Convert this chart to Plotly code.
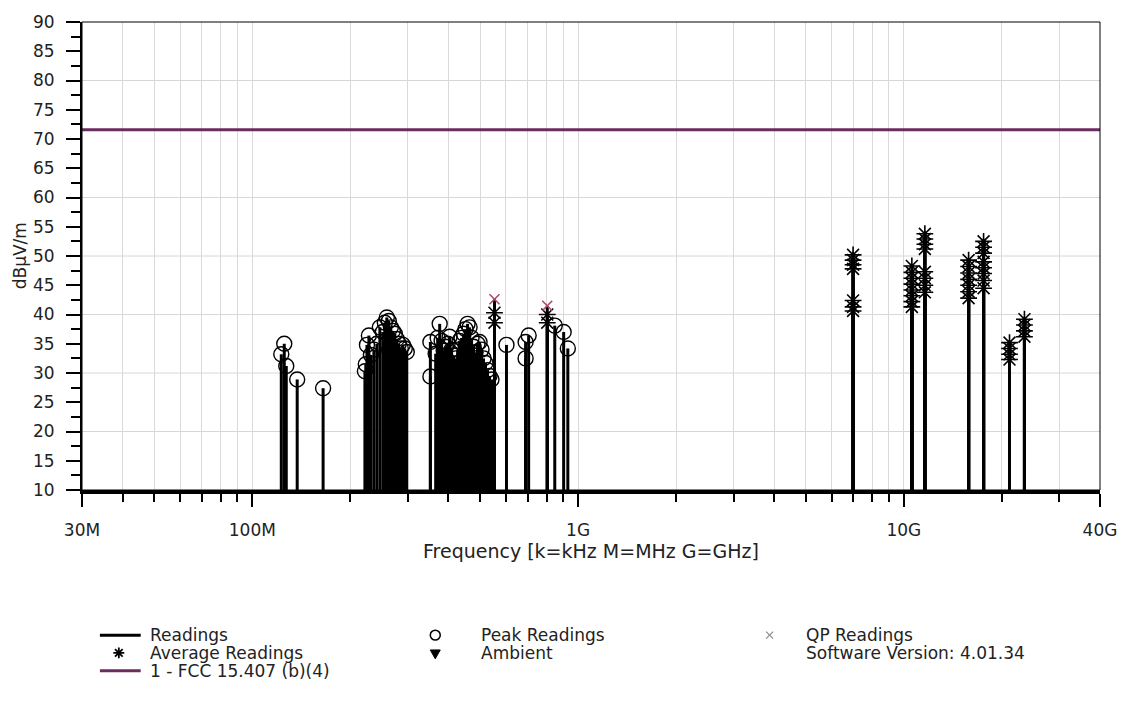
import plotly.graph_objects as go

# ---------------------------------------------------------------------------
# Data (frequencies in MHz, levels in dBµV/m)
# ---------------------------------------------------------------------------
limit_freq_mhz = [30, 40000]
limit_dbuv = [71.6, 71.6]

peak_freq_mhz = [
    122.7, 125.3, 127.1, 137.3, 164.9,
    221.6, 223.0, 224.8, 227.9, 231.2, 236.1, 241.1, 246.3, 251.5, 255.1,
    258.7, 262.4, 266.2, 269.9, 273.8, 277.7, 281.6, 285.6, 289.6, 293.7, 297.9,
    352.0, 352.0,
    365.4, 370.6, 375.9, 381.2, 386.6, 392.1, 397.7, 403.3, 409.1, 414.9,
    420.7, 426.7, 432.7, 438.9, 445.2, 451.4, 457.8, 464.3, 470.9, 477.6,
    484.5, 491.3, 498.3, 505.3, 512.5, 519.7, 527.0, 534.6, 542.2,
    602.7, 690.0, 690.0, 705.0, 848.0, 903.0, 930.0,
]
peak_dbuv = [
    33.2, 35.0, 31.2, 28.9, 27.4,
    30.3, 31.5, 34.8, 36.4, 33.1, 34.0, 35.0, 37.8, 37.0, 38.6,
    39.5, 38.9, 37.8, 37.2, 36.7, 35.8, 35.0, 34.2, 34.8, 34.2, 33.6,
    35.3, 29.4,
    33.3, 36.0, 38.4, 35.5, 33.8, 34.5, 35.0, 36.2, 34.0, 33.0,
    32.5, 34.0, 35.5, 36.0, 36.7, 37.5, 38.4, 37.8, 36.0, 34.5,
    33.5, 35.0, 35.3, 34.0, 32.5, 31.7, 30.5, 29.5, 28.9,
    34.8, 35.3, 32.5, 36.4, 38.1, 37.0, 34.2,
]

avg_freq_mhz = [
    553.8, 553.8, 804.1, 804.1,
    6984, 6984, 6984, 6984, 6984, 6984, 6984,
    10581, 10581, 10581, 10581, 10581, 10581, 10581, 10581,
    11599, 11599, 11599, 11599, 11599, 11599, 11599, 11599,
    15804, 15804, 15804, 15804, 15804, 15804, 15804,
    17568, 17568, 17568, 17568, 17568, 17568, 17568, 17568,
    21102, 21102, 21102, 21102,
    23448, 23448, 23448, 23448,
]
avg_dbuv = [
    40.3, 38.6, 40.0, 38.6,
    50.2, 49.3, 48.5, 47.8, 42.4, 41.3, 40.6,
    48.3, 47.2, 46.2, 45.2, 44.2, 43.2, 42.2, 41.3,
    53.8, 52.9, 52.0, 51.2, 47.3, 46.2, 45.0, 43.8,
    49.3, 48.2, 47.1, 46.0, 45.0, 43.9, 42.8,
    52.5, 51.5, 50.5, 49.0, 48.0, 47.0, 45.8, 44.5,
    35.2, 34.2, 33.2, 32.3,
    39.2, 38.2, 37.2, 36.2,
]

qp_freq_mhz = [553.8, 804.1]
qp_dbuv = [42.6, 41.5]

x_tick_vals = [30, 100, 1000, 10000, 40000]
x_tick_text = ["30M", "100M", "1G", "10G", "40G"]
x_minor_vals = [40, 50, 60, 70, 80, 90,
                200, 300, 400, 500, 600, 700, 800, 900,
                2000, 3000, 4000, 5000, 6000, 7000, 8000, 9000,
                20000, 30000]
y_grid_vals = [20, 30, 40, 50, 60, 80]

FONT = "DejaVu Sans"
INK = "#222"
LIMIT_COLOR = "#6b2d5e"
QP_COLOR = "#b04a66"
W, H = 1129, 708
L, R, T, B = 82, 24, 16, 218
PW, PH = W - L - R, H - T - B


def px_x(px):
    return (px - L) / PW


def px_y(py):
    return (H - B - py) / PH


def seg(x0, y0, x1, y1):
    return f"M{px_x(x0)},{px_y(y0)} L{px_x(x1)},{px_y(y1)} "


fig = go.Figure()

# Vertical stems from the floor of the chart up to each reading
stem_x, stem_y = [], []
for f, v in zip(peak_freq_mhz + avg_freq_mhz + qp_freq_mhz,
                peak_dbuv + avg_dbuv + qp_dbuv):
    stem_x += [f, f, None]
    stem_y += [10, v, None]

fig.add_trace(go.Scatter(x=stem_x, y=stem_y, mode="lines",
                         line=dict(color="black", width=3),
                         name="Readings", hoverinfo="skip"))

fig.add_trace(go.Scatter(x=limit_freq_mhz, y=limit_dbuv, mode="lines",
                         line=dict(color=LIMIT_COLOR, width=3),
                         name="1 - FCC 15.407 (b)(4)"))

fig.add_trace(go.Scatter(x=peak_freq_mhz, y=peak_dbuv, mode="markers",
                         marker=dict(symbol="circle-open", size=15,
                                     color="black", line=dict(width=1.4)),
                         name="Peak Readings"))

fig.add_trace(go.Scatter(x=avg_freq_mhz, y=avg_dbuv, mode="markers",
                         marker=dict(symbol="asterisk-open", size=14,
                                     color="black", line=dict(width=1.6)),
                         name="Average Readings"))

fig.add_trace(go.Scatter(x=qp_freq_mhz, y=qp_dbuv, mode="markers",
                         marker=dict(symbol="x-thin-open", size=10,
                                     color=QP_COLOR, line=dict(width=1.6)),
                         name="QP Readings"))

shapes = []
for gv in y_grid_vals:
    shapes.append(dict(type="line", xref="paper", x0=0, x1=1, yref="y",
                       y0=gv, y1=gv, layer="below",
                       line=dict(color="#d6d6d6", width=1)))
# frame
shapes.append(dict(type="rect", xref="paper", yref="paper", x0=0, x1=1,
                   y0=0, y1=1, line=dict(color="black", width=1)))

# ---- legend keys (drawn below the chart) ----
shapes.append(dict(type="line", xref="paper", yref="paper",
                   x0=px_x(100), x1=px_x(141), y0=px_y(637), y1=px_y(637),
                   line=dict(color="black", width=3)))
shapes.append(dict(type="line", xref="paper", yref="paper",
                   x0=px_x(100), x1=px_x(141), y0=px_y(673), y1=px_y(673),
                   line=dict(color=LIMIT_COLOR, width=3)))
# asterisk key
cx, cy, r = 119, 655, 5.5
ast = (seg(cx - r, cy, cx + r, cy) + seg(cx, cy - r, cx, cy + r)
       + seg(cx - r * 0.7, cy - r * 0.7, cx + r * 0.7, cy + r * 0.7)
       + seg(cx - r * 0.7, cy + r * 0.7, cx + r * 0.7, cy - r * 0.7))
shapes.append(dict(type="path", xref="paper", yref="paper", path=ast,
                   line=dict(color="black", width=1.8)))
# open circle key
cx, cy, r = 437, 637, 5
shapes.append(dict(type="circle", xref="paper", yref="paper",
                   x0=px_x(cx - r), x1=px_x(cx + r),
                   y0=px_y(cy + r), y1=px_y(cy - r),
                   line=dict(color="black", width=1.5)))
# down triangle key
cx, cy = 437, 656
tri = (f"M{px_x(cx - 5)},{px_y(cy - 4)} L{px_x(cx + 5)},{px_y(cy - 4)} "
       f"L{px_x(cx)},{px_y(cy + 5)} Z")
shapes.append(dict(type="path", xref="paper", yref="paper", path=tri,
                   fillcolor="black", line=dict(color="black", width=1)))
# x key
cx, cy, r = 773, 637, 3.5
xk = seg(cx - r, cy - r, cx + r, cy + r) + seg(cx - r, cy + r, cx + r, cy - r)
shapes.append(dict(type="path", xref="paper", yref="paper", path=xk,
                   line=dict(color="#8a8a8a", width=1.2)))

legend_text = [
    (148, 637, "Readings"),
    (148, 655, "Average Readings"),
    (148, 673, "1 - FCC 15.407 (b)(4)"),
    (481, 637, "Peak Readings"),
    (481, 655, "Ambient"),
    (808, 637, "QP Readings"),
    (808, 655, "Software Version: 4.01.34"),
]
annotations = [dict(x=px_x(x), y=px_y(y), xref="paper", yref="paper",
                    text=t, showarrow=False, xanchor="left", yanchor="middle",
                    font=dict(family=FONT, size=17, color=INK))
               for x, y, t in legend_text]
annotations.append(dict(x=0.5, y=px_y(552), xref="paper", yref="paper",
                        text="Frequency [k=kHz M=MHz G=GHz]", showarrow=False,
                        xanchor="center", yanchor="middle",
                        font=dict(family=FONT, size=19, color=INK)))
annotations.append(dict(x=px_x(20), y=0.5, xref="paper", yref="paper",
                        text="dBµV/m", showarrow=False, textangle=-90,
                        xanchor="center", yanchor="middle",
                        font=dict(family=FONT, size=17, color=INK)))

fig.update_layout(
    width=W, height=H,
    margin=dict(l=L, r=R, t=T, b=B),
    paper_bgcolor="white", plot_bgcolor="white",
    showlegend=False,
    font=dict(family=FONT, size=17, color=INK),
    shapes=shapes, annotations=annotations,
    xaxis=dict(
        type="log", range=[1.4771, 4.6021],
        tickvals=x_tick_vals, ticktext=x_tick_text,
        ticks="outside", ticklen=13, tickwidth=2, tickcolor="black",
        ticklabelstandoff=9,
        showline=True, linewidth=4, linecolor="black",
        showgrid=True, gridcolor="#d9d9d9", gridwidth=1,
        minor=dict(tickvals=x_minor_vals, ticks="outside", ticklen=8,
                   tickwidth=2, tickcolor="black",
                   showgrid=True, gridcolor="#d9d9d9", gridwidth=1),
        zeroline=False,
    ),
    yaxis=dict(
        range=[10, 90], dtick=5, tick0=10,
        ticks="outside", ticklen=14, tickwidth=2, tickcolor="black",
        ticklabelstandoff=8,
        showline=True, linewidth=2, linecolor="black",
        showgrid=False, zeroline=False,
        minor=dict(dtick=2.5, ticks="outside", ticklen=9, tickwidth=2,
                   tickcolor="black", showgrid=False),
    ),
)

fig.write_html("out.html")
